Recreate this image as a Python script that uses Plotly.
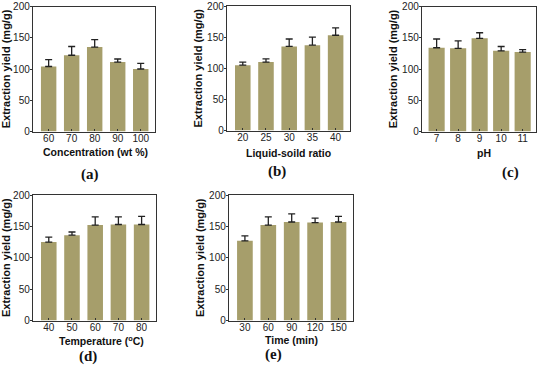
import plotly.graph_objects as go

# ---- data ----
conc_labels = ["60", "70", "80", "90", "100"]
conc_yield = [104, 122, 135, 111, 100]
conc_err = [11, 14, 12, 5, 9]

ratio_labels = ["20", "25", "30", "35", "40"]
ratio_yield = [105, 110, 135, 137, 153]
ratio_err = [5, 5, 12, 13, 12]

ph_labels = ["7", "8", "9", "10", "11"]
ph_yield = [134, 133, 149, 129, 127]
ph_err = [14, 12, 9, 7, 4]

temp_labels = ["40", "50", "60", "70", "80"]
temp_yield = [125, 136, 152, 153, 153]
temp_err = [8, 5, 13, 12, 13]

time_labels = ["30", "60", "90", "120", "150"]
time_yield = [127, 152, 157, 156, 157]
time_err = [8, 13, 13, 7, 9]

panels = [
    (conc_labels, conc_yield, conc_err, "Concentration (wt %)", "(a)"),
    (ratio_labels, ratio_yield, ratio_err, "Liquid-soild ratio", "(b)"),
    (ph_labels, ph_yield, ph_err, "pH", "(c)"),
    (temp_labels, temp_yield, temp_err, "Temperature (<sup>o</sup>C)", "(d)"),
    (time_labels, time_yield, time_err, "Time (min)", "(e)"),
]

W, H = 550, 369
# pixel boxes of plot areas: (x0, x1, ytop, ybottom)
boxes = [
    (33, 155, 6.5, 131.5),
    (227, 350, 6, 130.5),
    (422, 536, 6.5, 131.5),
    (33, 156, 195, 320.5),
    (229, 353, 195, 320.5),
]
# label positions (px): x-title center, x-title y, panel label x, panel label y
label_pos = [
    (95, 152, 90, 174),
    (288, 153, 277, 171),
    (484, 153, 510, 172),
    (101, 340, 88, 356),
    (291, 340, 273, 354),
]
bargaps = [0.33, 0.33, 0.25, 0.33, 0.33]

BAR = "#a69e6b"
AX = "#333333"
FONT = "Liberation Sans, Arial, sans-serif"

fig = go.Figure()
annotations = []
for i, ((labels, vals, errs, xt, pl), (x0, x1, yt, yb), (xtc, xty, plx, ply)) in enumerate(
        zip(panels, boxes, label_pos)):
    n = i + 1
    xa = "x" if n == 1 else f"x{n}"
    ya = "y" if n == 1 else f"y{n}"
    fig.add_trace(go.Bar(
        x=labels, y=vals, xaxis=xa, yaxis=ya,
        width=1 - bargaps[i],
        marker=dict(color=BAR, line=dict(width=0)),
        error_y=dict(type="data", array=errs, arrayminus=[0] * len(errs),
                     symmetric=False, color="#222222", thickness=1.3, width=3.5),
        showlegend=False, hoverinfo="skip",
    ))
    xkey = "xaxis" if n == 1 else f"xaxis{n}"
    ykey = "yaxis" if n == 1 else f"yaxis{n}"
    fig.layout[xkey] = dict(
        domain=[x0 / W, x1 / W], anchor=ya, automargin=False,
        type="category", range=[-0.68, 4.62],
        showline=True, linecolor=AX, linewidth=1.4, mirror=True,
        ticks="inside", ticklen=2, tickcolor=AX,
        tickfont=dict(family=FONT, size=10, color="#222"),
        ticklabelstandoff=-3,
        showgrid=False,
    )
    fig.layout[ykey] = dict(
        domain=[1 - yb / H, 1 - yt / H], anchor=xa, automargin=False,
        range=[0, 200], tickvals=[0, 50, 100, 150, 200],
        showline=True, linecolor=AX, linewidth=1.4, mirror=True,
        ticks="outside", ticklen=2, tickcolor=AX,
        tickfont=dict(family=FONT, size=10, color="#222"),
        ticklabelstandoff=-2,
        showgrid=False, zeroline=False,
        title=dict(text="<b>Extraction yield (mg/g)</b>",
                   font=dict(family=FONT, size=11, color="#111"), standoff=2),
    )
    annotations.append(dict(
        x=xtc / W, y=1 - xty / H, xref="paper", yref="paper",
        text=f"<b>{xt}</b>", showarrow=False,
        font=dict(family=FONT, size=10.5, color="#111"),
        xanchor="center", yanchor="middle",
    ))
    annotations.append(dict(
        x=plx / W, y=1 - ply / H, xref="paper", yref="paper",
        text=f"<b>{pl}</b>", showarrow=False,
        font=dict(family="Liberation Serif, Times New Roman, serif", size=15, color="#111"),
        xanchor="center", yanchor="middle",
    ))

fig.update_layout(
    width=W, height=H,
    margin=dict(l=0, r=0, t=0, b=0, autoexpand=False),
    paper_bgcolor="white", plot_bgcolor="white",
    annotations=annotations,
)

fig.write_html("out.html",
               config={"displayModeBar": False},
               post_script="document.body.style.margin='0';document.body.style.overflow='hidden';")
